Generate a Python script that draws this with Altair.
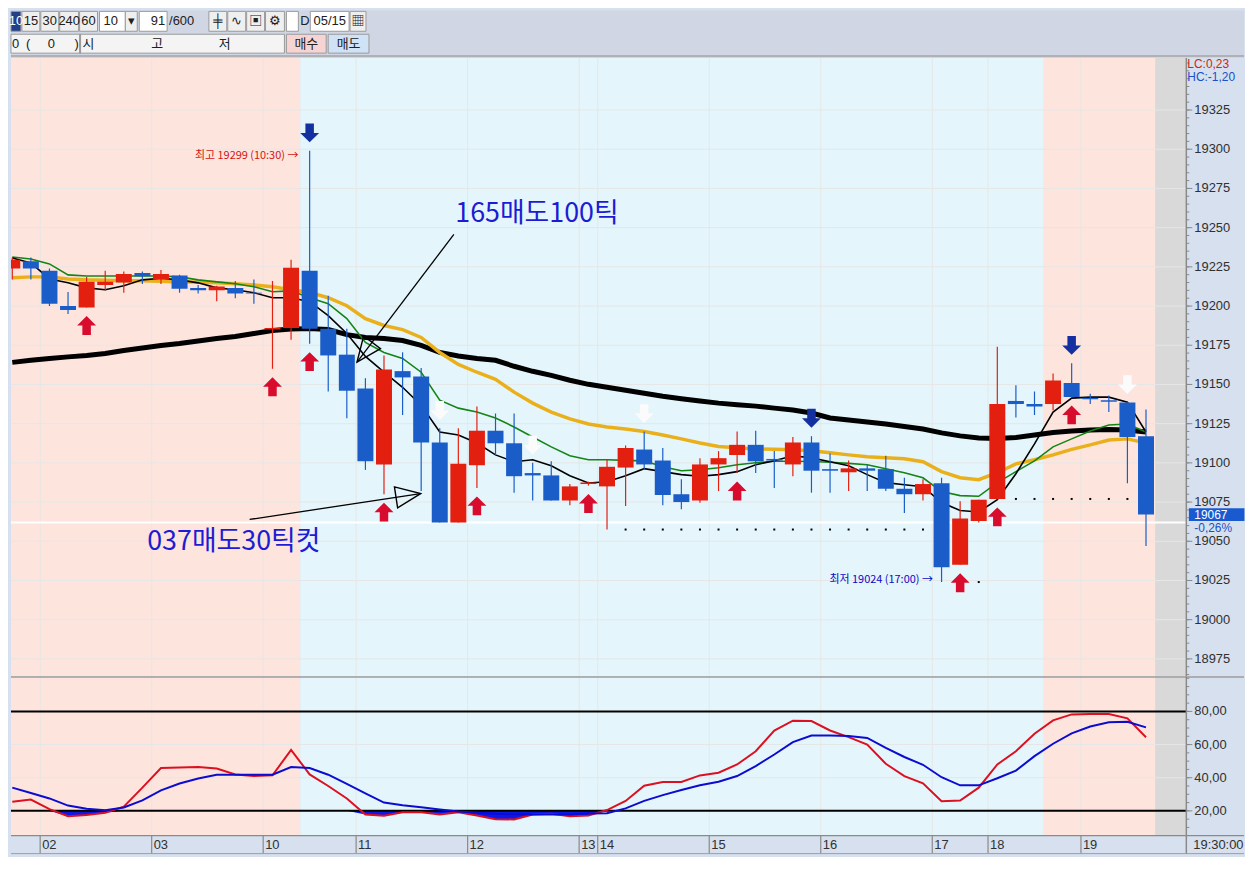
import altair as alt
import pandas as pd

# ---------------- data (10-minute bars) ----------------
bar_index = list(range(62))
opens = [19224, 19228.5, 19222.5, 19200, 19199, 19213.5, 19215, 19221, 19217, 19219.5,
         19211.5, 19210, 19211.5, 19208.5, 19185, 19186, 19222.5, 19185.5, 19169, 19147.5,
         19099, 19158.5, 19155, 19113, 19062, 19098.5, 19120.5, 19112.5, 19093.5, 19092,
         19076, 19086.5, 19085, 19097, 19108.5, 19101.5, 19080, 19076, 19099, 19105,
         19111.5, 19102.5, 19099, 19113, 19096, 19094, 19096.5, 19096, 19083.5, 19080,
         19087, 19035, 19063, 19077, 19139.5, 19137.5, 19137.5, 19151, 19141.5, 19140,
         19138.5, 19117]
highs = [19231, 19231, 19224, 19209, 19218.5, 19222.5, 19222, 19222, 19223, 19220,
         19213.5, 19213, 19216, 19217, 19216, 19229.5, 19299, 19206.5, 19185.5, 19154,
         19168.5, 19170.5, 19160.5, 19122, 19122, 19136, 19131.5, 19131.5, 19100, 19101,
         19086.5, 19088, 19102, 19111, 19120, 19109.5, 19089.5, 19103, 19107.5, 19120,
         19120.5, 19107.5, 19116.5, 19117, 19106, 19101.5, 19099, 19104.5, 19090.5, 19089.5,
         19090.5, 19075.5, 19076.5, 19174, 19149.5, 19145.5, 19157, 19163.5, 19144, 19143,
         19138.5, 19134]
lows = [19217, 19217, 19200, 19195, 19199, 19210, 19208.5, 19214, 19214, 19208.5,
        19208, 19203, 19205, 19201.5, 19160, 19178.5, 19176, 19145.5, 19128.5, 19095.5,
        19080, 19130.5, 19082, 19062, 19062, 19084, 19105, 19081, 19076, 19076,
        19073, 19085.5, 19057.5, 19072.5, 19095.5, 19073, 19070.5, 19074.5, 19082, 19093.5,
        19093.5, 19084, 19091.5, 19081, 19081, 19082, 19082, 19082, 19068, 19076,
        19024, 19035, 19062, 19077, 19129, 19130.5, 19133.5, 19142, 19137.5, 19132.5,
        19087, 19047]
closes = [19229.5, 19224, 19201.5, 19197.5, 19215.5, 19215.5, 19220.5, 19219, 19220.5, 19211,
          19210, 19212.5, 19208, 19208, 19186, 19224.5, 19185.5, 19168.5, 19146, 19101,
          19159.5, 19154.5, 19113, 19062, 19099.5, 19120.5, 19112.5, 19091.5, 19092, 19076,
          19085, 19087.5, 19097.5, 19109.5, 19099, 19079.5, 19075, 19099, 19103, 19111.5,
          19101, 19101.5, 19113, 19095, 19095, 19096.5, 19095, 19083.5, 19080, 19086.5,
          19033.5, 19064.5, 19076.5, 19137.5, 19137.5, 19136, 19152.5, 19142, 19140.5, 19139,
          19116.5, 19067]

ma_short = [19230.7, 19227.5, 19217.3, 19214.8, 19211.6, 19210.4, 19212.9, 19216.7, 19217.7, 19216.7,
            19214.8, 19211.6, 19210.4, 19208.5, 19205.3, 19205.3, 19202.8, 19193.9, 19182.5, 19167.9,
            19157.8, 19148.2, 19136.8, 19119.7, 19117.8, 19112.7, 19105.1, 19100.7, 19102.0, 19098.2,
            19091.8, 19087.2, 19088.0, 19091.8, 19096.3, 19094.4, 19092.5, 19091.5, 19092.5, 19094.4,
            19098.8, 19101.3, 19104.5, 19103.2, 19100.7, 19098.2, 19092.5, 19087.4, 19086.1, 19084.8,
            19074.7, 19069.6, 19068.7, 19076.6, 19093.1, 19112.1, 19132.4, 19141.3, 19141.9, 19141.9,
            19138.7, 19119.7]
ma_mid = [19231.3, 19230.0, 19226.9, 19219.9, 19219.2, 19219.2, 19219.2, 19219.2, 19219.2, 19218.6,
          19216.7, 19215.4, 19214.2, 19212.3, 19209.1, 19209.7, 19205.3, 19201.5, 19192.0, 19176.8,
          19170.4, 19166.6, 19157.8, 19140.0, 19134.9, 19132.4, 19128.6, 19122.9, 19116.5, 19110.2,
          19104.5, 19102.0, 19102.0, 19101.6, 19101.3, 19097.5, 19095.0, 19095.6, 19096.9, 19098.8,
          19100.1, 19101.0, 19101.0, 19100.9, 19100.4, 19099.7, 19098.8, 19096.3, 19093.7, 19090.5,
          19081.7, 19079.1, 19078.7, 19087.4, 19094.4, 19101.3, 19110.2, 19115.3, 19120.3, 19124.2,
          19124.8, 19119.7]
ma_20 = [19218.0, 19218.6, 19218.6, 19217.3, 19216.7, 19216.4, 19216.1, 19216.1, 19215.8, 19215.4,
         19215.4, 19214.8, 19214.2, 19213.5, 19212.3, 19210.4, 19208.7, 19205.3, 19200.2, 19192.0,
         19187.6, 19185.0, 19180.0, 19170.4, 19162.8, 19157.8, 19153.3, 19145.1, 19138.1, 19132.4,
         19128.0, 19124.8, 19122.9, 19121.6, 19120.0, 19117.8, 19115.3, 19112.7, 19110.5, 19109.6,
         19108.9, 19108.7, 19108.3, 19107.7, 19106.4, 19105.1, 19103.9, 19103.2, 19102.6, 19100.7,
         19094.4, 19090.5, 19089.3, 19093.7, 19099.4, 19102.0, 19105.1, 19108.6, 19111.5, 19114.6,
         19115.3, 19112.7]
ma_long = [19164.1, 19165.4, 19166.6, 19167.6, 19168.5, 19169.8, 19171.7, 19173.3, 19174.9, 19176.1,
           19177.7, 19179.3, 19180.6, 19182.5, 19184.4, 19185.3, 19185.6, 19185.0, 19181.8, 19179.9,
           19179.3, 19178.0, 19174.9, 19170.4, 19168.2, 19166.6, 19165.4, 19161.6, 19158.4, 19155.8,
           19152.7, 19150.1, 19148.2, 19146.3, 19144.4, 19142.5, 19140.9, 19139.4, 19138.1, 19137.1,
           19136.2, 19134.9, 19133.7, 19131.8, 19128.6, 19127.3, 19126.1, 19124.8, 19123.2, 19121.6,
           19119.1, 19117.2, 19115.9, 19115.6, 19116.2, 19117.8, 19119.4, 19120.3, 19121.0, 19121.3,
           19121.0, 19119.7]

stoch_k = [25.5, 26.8, 21, 16.8, 17.5, 18.8, 22.5, 34, 45.8, 46.2,
           46.4, 45.5, 42, 41, 41.4, 56.8, 42, 35, 27.5, 17.8,
           17, 19.2, 19.2, 17.8, 19.2, 17.2, 15, 14.8, 17.8, 18.2,
           16.8, 17.2, 20.5, 26, 35.2, 37.4, 37.4, 41.4, 43, 48,
           56, 68.4, 74.4, 74.2, 68.5, 64.5, 60, 48.4, 41, 36.6,
           25.8, 26.2, 34, 48, 56, 66.5, 74.6, 78.2, 78.4, 78.4,
           75.8, 64.4]
stoch_d = [34, 30.8, 27.5, 23.2, 21.3, 20.4, 22, 26.3, 32.4, 36.5,
           39.5, 41.8, 41.8, 41.8, 41.8, 46.4, 45.8, 41.8, 36.3, 30.5,
           25, 23.4, 22.2, 20.8, 19.6, 18.8, 18.2, 17.9, 17.8, 17.8,
           17.8, 18.4, 18.6, 21.5, 26, 29.5, 32.6, 35.5, 37.6, 41,
           47, 54, 61.5, 65.5, 65.5, 65.2, 64, 58, 52.5, 47.8,
           40.3, 35.4, 35.4, 39.7, 44.3, 53, 60.5, 66.8, 70.9, 73.4,
           73.8, 70.4]

hour_bars = [2, 8, 14, 19, 25, 31, 32, 38, 44, 50, 53, 58]
hour_labels = ["02", "03", "10", "11", "12", "13", "14", "15", "16", "17", "18", "19"]
last_time_label = "19:30:00"

price_ticks = list(range(18975, 19326, 25))
price_tick_labels = [str(v) for v in price_ticks]
price_minor = list(range(18965, 19356, 5))
stoch_ticks = [20, 40, 60, 80]
stoch_tick_labels = ["20,00", "40,00", "60,00", "80,00"]
stoch_minor = list(range(10, 101, 5))

session_start = [-0.5, 15.5, 55.5, 61.5]
session_end = [15.5, 55.5, 61.5, 64.0]
session_kind = ["night", "day", "night", "empty"]

up_arrow_bars = [4, 14, 16, 20, 25, 31, 39, 51, 53, 57]
down_arrow_bars = [16, 43, 57]
hollow_arrow_bars = [23, 28, 34, 60]

support_levels = [19057.5, 19077, 19024]
support_from = [33, 54, 51]
support_to = [49, 60, 52]

prev_close_line = 19062
last_price = 19067
last_change = "-0,26%"
lc_text = "LC:0,23"
hc_text = "HC:-1,20"

note_text = ["최고 19299 (10:30) →", "최저 19024 (17:00) →"]
note_x = [15.39, 49.53]
note_y = [19295.9, 19025.3]
note_kind = ["high", "low"]

memo_text = ["165매도100틱", "037매도30틱컷"]
memo_x = [28.23, 11.92]
memo_y = [19258.6, 19049.4]

pointer_x0 = [23.76, 12.77]
pointer_y0 = [19245.7, 19063.9]
pointer_x1 = [18.55, 21.97]
pointer_y1 = [19164.3, 19080.4]
pointer_angle = [217.2, 81.4]

# toolbar (decorative UI strip above the chart)
tb_x0 = [8, 19, 38, 57, 77, 97, 123, 137, 207, 226, 245, 264, 285, 309, 349, 8, 77, 285, 327]
tb_x1 = [18, 37, 56, 76, 95, 123, 135, 165, 225, 244, 263, 283, 297, 348, 365, 283, 78, 325, 368]
tb_row = [1] * 15 + [2, 2, 2, 2]
tb_role = ["sel", "btn", "btn", "btn", "btn", "field", "btn", "field", "btn", "btn", "btn", "btn",
           "field", "field", "btn", "field2", "sep", "buy", "sell"]
tb_label = ["10", "15", "30", "240", "60", "", "▾", "", "╪", "∿", "▣", "⚙", "", "05/15", "▦", "", "", "매수", "매도"]
tb_free_text = ["10", "/600", "D", "0", "(", "0", ")", "시", "고", "저"]
tb_free_x = [101, 167, 299, 9, 23, 45, 72, 80, 149, 217]
tb_free_row = [1, 1, 1, 2, 2, 2, 2, 2, 2, 2]
tb_input_value = "91"

# ---------------- styling / layout ----------------
W = 1182
H_TOP, H_MAIN, H_STO, H_AXIS = 48, 622, 160, 18
RIGHT_END = 1240
X_DOMAIN = [-0.07, 63.17]
Y_MAIN = [18963.7, 19358.1]
Y_STO = [5.0, 101.0]

RED = "#e31f10"
BLUE = "#1a5dc8"
ARROW_RED = "#d80c2c"
ARROW_NAVY = "#1430a0"
PANEL_BG = "#d6e0ee"
BG_COLORS = {"night": "#fde5de", "day": "#e4f6fc", "empty": "#d9d9d9"}
GRID = "#e6e6e6"
AXIS_GREY = "#8a8a8a"
LABEL_COLOR = "#303030"
NUM_FONT = "Liberation Sans Narrow, Liberation Sans, Arial, sans-serif"
KR_FONT = "Noto Sans CJK KR"

UP_PATH = "M0,-1L1,0L0.45,0L0.45,1L-0.45,1L-0.45,0L-1,0Z"
DOWN_PATH = "M0,1L1,0L0.45,0L0.45,-1L-0.45,-1L-0.45,0L-1,0Z"
HEAD_PATH = "M0,0L0.85,2L-0.85,2Z"
BOX_PATH = "M-2.15,-0.5L2.15,-0.5L2.15,0.5L-2.15,0.5Z"

XS = alt.Scale(domain=X_DOMAIN, nice=False, zero=False)
YS = alt.Scale(domain=Y_MAIN, nice=False, zero=False)
SS = alt.Scale(domain=Y_STO, nice=False, zero=False)


def xq(f):
    return alt.X(f"{f}:Q", scale=XS, axis=None)


def yq(f):
    return alt.Y(f"{f}:Q", scale=YS, axis=None)


def sq(f):
    return alt.Y(f"{f}:Q", scale=SS, axis=None)


# ---------------- tables ----------------
bars = pd.DataFrame({"i": bar_index, "open": opens, "high": highs, "low": lows, "close": closes,
                     "ma_short": ma_short, "ma_mid": ma_mid, "ma_20": ma_20, "ma_long": ma_long})
bars["top"] = [max(o, c) for o, c in zip(opens, closes)]
bars["bot"] = [min(o, c) for o, c in zip(opens, closes)]
bars["col"] = [RED if c >= o else BLUE for o, c in zip(opens, closes)]

sess = pd.DataFrame({"s": session_start, "e": session_end,
                     "fill": [BG_COLORS[k] for k in session_kind]})
bounds_df = pd.DataFrame({"b": [b - 0.5 for b in hour_bars], "lab": hour_labels})
one = pd.DataFrame({"p": [last_price], "t": [str(last_price)], "chg": [last_change]})

# ---------------- main price panel ----------------
bg_main = alt.Chart(sess).mark_rect(clip=True).encode(
    x=xq("s"), x2="e", y=alt.value(0), y2=alt.value(H_MAIN), color=alt.Color("fill:N", scale=None))
ptick_df = pd.DataFrame({"p": price_ticks, "lab": price_tick_labels})
hgrid = alt.Chart(ptick_df).mark_rule(color=GRID, strokeWidth=1).encode(y=yq("p"))
vgrid = alt.Chart(bounds_df).mark_rule(color=GRID, strokeWidth=1).encode(x=xq("b"))
prev_rule = alt.Chart(pd.DataFrame({"p": [prev_close_line]})).mark_rule(
    color="#ffffff", strokeWidth=2).encode(y=yq("p"))

# right price axis drawn from the tick lists
m_domain = alt.Chart(one).mark_rule(color=AXIS_GREY, strokeWidth=1.5).encode(
    x=alt.value(W), y=alt.value(0), y2=alt.value(H_MAIN))
m_major = alt.Chart(ptick_df).mark_rule(color=AXIS_GREY).encode(
    x=alt.value(W), x2=alt.value(W + 6), y=yq("p"))
m_minor = alt.Chart(pd.DataFrame({"p": price_minor})).mark_rule(color=AXIS_GREY).encode(
    x=alt.value(W), x2=alt.value(W + 3), y=yq("p"))
m_labels = alt.Chart(ptick_df).mark_text(align="left", baseline="middle", font=NUM_FONT, fontSize=13,
                                         color=LABEL_COLOR).encode(x=alt.value(W + 8), y=yq("p"), text="lab:N")

base = alt.Chart(bars)
l_long = base.mark_line(color="#000000", strokeWidth=5, clip=True).encode(x=xq("i"), y=yq("ma_long"))
l_20 = base.mark_line(color="#eab01c", strokeWidth=3.5, clip=True).encode(x=xq("i"), y=yq("ma_20"))
l_mid = base.mark_line(color="#148414", strokeWidth=1.6, clip=True).encode(x=xq("i"), y=yq("ma_mid"))
l_short = base.mark_line(color="#000000", strokeWidth=1.6, clip=True).encode(x=xq("i"), y=yq("ma_short"))

wick = base.mark_rule(strokeWidth=1.2, clip=True).encode(
    x=xq("i"), y=yq("low"), y2="high", color=alt.Color("col:N", scale=None))
body = base.transform_calculate(x0="datum.i - 0.43", x1="datum.i + 0.43").mark_rect(clip=True).encode(
    x=xq("x0"), x2="x1", y=yq("bot"), y2="top", color=alt.Color("col:N", scale=None))

up_arrows = alt.Chart(bars[bars.i.isin(up_arrow_bars)]).mark_point(
    shape=UP_PATH, size=361, filled=True, color=ARROW_RED, opacity=1, yOffset=18, strokeWidth=0
).encode(x=xq("i"), y=yq("low"))
down_arrows = alt.Chart(bars[bars.i.isin(down_arrow_bars)]).mark_point(
    shape=DOWN_PATH, size=361, filled=True, color=ARROW_NAVY, opacity=1, yOffset=-18, strokeWidth=0
).encode(x=xq("i"), y=yq("high"))
white_arrows = alt.Chart(bars[bars.i.isin(hollow_arrow_bars)]).mark_point(
    shape=DOWN_PATH, size=361, filled=True, color="#fbfbfb", opacity=1, yOffset=-18, strokeWidth=0
).encode(x=xq("i"), y=yq("high"))

dot_rows = [{"i": b, "p": lvl} for lvl, a, z in zip(support_levels, support_from, support_to)
            for b in range(a, z + 1)]
dots = alt.Chart(pd.DataFrame(dot_rows)).mark_square(size=4, color="#000000", opacity=1).encode(
    x=xq("i"), y=yq("p"))

notes = pd.DataFrame({"x": note_x, "y": note_y, "t": note_text,
                      "c": ["#d41414" if k == "high" else "#0a0ac8" for k in note_kind]})
note_marks = alt.Chart(notes).mark_text(align="right", baseline="middle", font=KR_FONT, fontSize=11).encode(
    x=xq("x"), y=yq("y"), text="t:N", color=alt.Color("c:N", scale=None))

memos = pd.DataFrame({"x": memo_x, "y": memo_y, "t": memo_text})
memo_marks = alt.Chart(memos).mark_text(align="center", baseline="middle", font=KR_FONT, fontSize=27,
                                        color="#1c1cd4").encode(x=xq("x"), y=yq("y"), text="t:N")

ptr = pd.DataFrame({"x0": pointer_x0, "y0": pointer_y0, "x1": pointer_x1, "y1": pointer_y1,
                    "ang": pointer_angle})
ptr_lines = alt.Chart(ptr).mark_rule(color="#000000", strokeWidth=1.3).encode(
    x=xq("x0"), y=yq("y0"), x2="x1", y2="y1")
ptr_heads = alt.Chart(ptr).mark_point(shape=HEAD_PATH, size=625, filled=False, color="#000000",
                                      strokeWidth=1.4, opacity=1).encode(
    x=xq("x1"), y=yq("y1"), angle=alt.Angle("ang:Q", scale=None))

lc_mark = alt.Chart(one).mark_text(text=lc_text, align="left", baseline="middle", font=NUM_FONT,
                                   fontSize=12, color="#d42020").encode(x=alt.value(W + 1), y=alt.value(6))
hc_mark = alt.Chart(one).mark_text(text=hc_text, align="left", baseline="middle", font=NUM_FONT,
                                   fontSize=12, color="#1a50c8").encode(x=alt.value(W + 1), y=alt.value(19))
price_box = alt.Chart(one).mark_point(shape=BOX_PATH, size=676, filled=True, color="#1a5ad0",
                                      opacity=1, strokeWidth=0).encode(x=alt.value(W + 30.5), y=yq("p"))
price_txt = alt.Chart(one).mark_text(align="left", baseline="middle", font=NUM_FONT, fontSize=12,
                                     color="#ffffff").encode(x=alt.value(W + 8), y=yq("p"), text="t:N")
chg_txt = alt.Chart(one).mark_text(align="left", baseline="middle", font=NUM_FONT, fontSize=12,
                                   color="#1a50c8", dy=13).encode(x=alt.value(W + 8), y=yq("p"), text="chg:N")

main = alt.layer(bg_main, hgrid, vgrid, prev_rule, l_long, l_20, l_mid, l_short,
                 wick, body, dots, up_arrows, down_arrows, white_arrows, note_marks, memo_marks,
                 ptr_lines, ptr_heads, m_domain, m_major, m_minor, m_labels,
                 lc_mark, hc_mark, price_box, price_txt, chg_txt
                 ).properties(width=W, height=H_MAIN)

# ---------------- stochastic panel ----------------
sdf = pd.DataFrame({"i": bar_index, "k": stoch_k, "d": stoch_d})
stick_df = pd.DataFrame({"v": stoch_ticks, "lab": stoch_tick_labels})

bg_sto = alt.Chart(sess).mark_rect(clip=True).encode(
    x=xq("s"), x2="e", y=alt.value(0), y2=alt.value(H_STO), color=alt.Color("fill:N", scale=None))
s_hgrid = alt.Chart(pd.DataFrame({"v": [40, 60]})).mark_rule(color=GRID).encode(y=sq("v"))
s_vgrid = alt.Chart(bounds_df).mark_rule(color=GRID).encode(x=xq("b"))
s_fill = alt.Chart(sdf).transform_calculate(kk="min(datum.k, 20)", lim="20").mark_area(
    color="#0c18e8", opacity=1, clip=True).encode(x=xq("i"), y=sq("kk"), y2="lim")
s_levels = alt.Chart(pd.DataFrame({"v": [20, 80]})).mark_rule(color="#000000", strokeWidth=2).encode(
    y=sq("v"))
k_line = alt.Chart(sdf).mark_line(color="#dc1020", strokeWidth=2, clip=True).encode(x=xq("i"), y=sq("k"))
d_line = alt.Chart(sdf).mark_line(color="#0c0cd0", strokeWidth=2, clip=True).encode(x=xq("i"), y=sq("d"))

s_domain = alt.Chart(one).mark_rule(color=AXIS_GREY, strokeWidth=1.5).encode(
    x=alt.value(W), y=alt.value(0), y2=alt.value(H_STO + H_AXIS))
s_major = alt.Chart(stick_df).mark_rule(color=AXIS_GREY).encode(
    x=alt.value(W), x2=alt.value(W + 6), y=sq("v"))
s_minor = alt.Chart(pd.DataFrame({"v": stoch_minor})).mark_rule(color=AXIS_GREY).encode(
    x=alt.value(W), x2=alt.value(W + 3), y=sq("v"))
s_labels = alt.Chart(stick_df).mark_text(align="left", baseline="middle", font=NUM_FONT, fontSize=13,
                                         color=LABEL_COLOR).encode(x=alt.value(W + 8), y=sq("v"), text="lab:N")

# time label row under the stochastic panel
x_line = alt.Chart(one).mark_rule(color=AXIS_GREY, strokeWidth=1.2).encode(
    x=alt.value(0), x2=alt.value(RIGHT_END), y=alt.value(H_STO))
x_ticks = alt.Chart(bounds_df).mark_rule(color=AXIS_GREY, strokeWidth=1.2).encode(
    x=xq("b"), y=alt.value(H_STO), y2=alt.value(H_STO + H_AXIS))
x_labels = alt.Chart(bounds_df).mark_text(align="left", baseline="middle", font=NUM_FONT, fontSize=13,
                                          color=LABEL_COLOR, dx=2).encode(
    x=xq("b"), y=alt.value(H_STO + H_AXIS / 2 + 0.5), text="lab:N")
divider = alt.Chart(one).mark_rule(color="#9c9c9c", strokeWidth=1.5).encode(
    x=alt.value(0), x2=alt.value(RIGHT_END), y=alt.value(0.5))
bottom_line = alt.Chart(one).mark_rule(color="#9c9c9c", strokeWidth=1).encode(
    x=alt.value(0), x2=alt.value(RIGHT_END), y=alt.value(H_STO + H_AXIS))
time_txt = alt.Chart(one).mark_text(text=last_time_label, align="left", baseline="middle", font=NUM_FONT,
                                    fontSize=13, color=LABEL_COLOR).encode(
    x=alt.value(W + 7), y=alt.value(H_STO + H_AXIS / 2 + 0.5))

stoch = alt.layer(bg_sto, s_hgrid, s_vgrid, s_fill, s_levels, k_line, d_line, divider,
                  x_line, x_ticks, x_labels, bottom_line, s_domain, s_major, s_minor, s_labels,
                  time_txt).properties(width=W, height=H_STO)

# ---------------- toolbar strip ----------------
TX = alt.Scale(domain=[8, 8 + W], nice=False, zero=False)
TY = alt.Scale(domain=[8, 8 + H_TOP], nice=False, zero=False, reverse=True)
role_fill = {"sel": "#243f8a", "btn": "#efefef", "field": "#ffffff", "field2": "#f4f4f4",
             "sep": "#9a9a9a", "buy": "#f6d4d4", "sell": "#d0e2f6"}
row_y = {1: (9, 29), 2: (32, 51)}
tb = pd.DataFrame({"x0": tb_x0, "x1": tb_x1,
                   "y0": [row_y[r][0] for r in tb_row], "y1": [row_y[r][1] for r in tb_row],
                   "fill": [role_fill[r] for r in tb_role],
                   "xc": [(a + b) / 2 for a, b in zip(tb_x0, tb_x1)],
                   "yc": [sum(row_y[r]) / 2 for r in tb_row],
                   "t": tb_label,
                   "tc": ["#ffffff" if r == "sel" else "#202020" for r in tb_role]})
tb_bg = alt.Chart(one).mark_rect(color="#d0d6e4").encode(
    x=alt.value(0), x2=alt.value(RIGHT_END), y=alt.value(0), y2=alt.value(H_TOP))
tb_sep = alt.Chart(one).mark_rect(color="#a4a4a4").encode(
    x=alt.value(0), x2=alt.value(RIGHT_END), y=alt.value(45), y2=alt.value(46.5))
tb_rects = alt.Chart(tb).mark_rect(stroke="#9a9a9a", strokeWidth=1).encode(
    x=alt.X("x0:Q", scale=TX, axis=None), x2="x1",
    y=alt.Y("y0:Q", scale=TY, axis=None), y2="y1", color=alt.Color("fill:N", scale=None))
tb_labels = alt.Chart(tb).mark_text(align="center", baseline="middle", font=f"{NUM_FONT}, {KR_FONT}",
                                    fontSize=13).encode(
    x=alt.X("xc:Q", scale=TX, axis=None), y=alt.Y("yc:Q", scale=TY, axis=None), text="t:N",
    color=alt.Color("tc:N", scale=None))
free = pd.DataFrame({"x": tb_free_x, "y": [sum(row_y[r]) / 2 for r in tb_free_row], "t": tb_free_text})
tb_free = alt.Chart(free).mark_text(align="left", baseline="middle", font=f"{NUM_FONT}, {KR_FONT}",
                                    fontSize=13, color="#202020").encode(
    x=alt.X("x:Q", scale=TX, axis=None), y=alt.Y("y:Q", scale=TY, axis=None), text="t:N")
tb_input = alt.Chart(pd.DataFrame({"x": [163], "y": [19], "t": [tb_input_value]})).mark_text(
    align="right", baseline="middle", font=NUM_FONT, fontSize=13, color="#202020").encode(
    x=alt.X("x:Q", scale=TX, axis=None), y=alt.Y("y:Q", scale=TY, axis=None), text="t:N")

toolbar = alt.layer(tb_bg, tb_sep, tb_rects, tb_labels, tb_free, tb_input).properties(width=W, height=H_TOP)

chart = alt.vconcat(toolbar, main, stoch, spacing=0, bounds="flush").properties(
    padding=0, background=PANEL_BG).configure_view(strokeWidth=0)

chart.save("out.html", embed_options={"renderer": "svg", "actions": False})
